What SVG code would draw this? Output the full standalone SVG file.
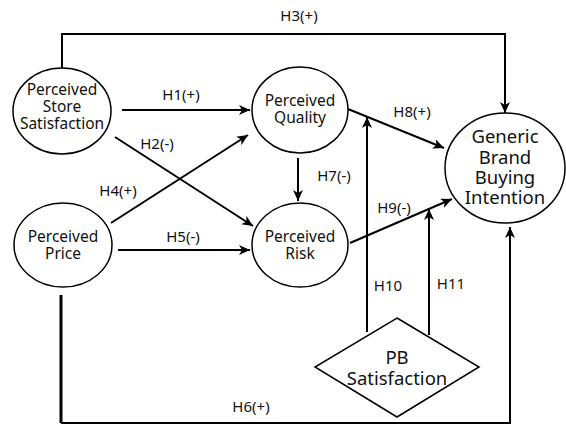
<svg xmlns="http://www.w3.org/2000/svg" width="566" height="425" viewBox="0 0 566 425">
<style>
.n{fill:#fff;stroke:#000;stroke-width:1.5}
.t{font-family:"Noto Sans","DejaVu Sans",sans-serif;font-size:15.5px;fill:#111;text-anchor:middle}
.b{font-size:18.5px}
.l{font-family:"Noto Sans","DejaVu Sans",sans-serif;font-size:15px;fill:#111;text-anchor:middle}
.c{fill:none;stroke:#000;stroke-width:2}
.a{marker-end:url(#ah)}
</style>
<defs>
<marker id="ah" markerUnits="userSpaceOnUse" markerWidth="12" markerHeight="10" refX="11" refY="5" orient="auto">
<path d="M0,0 L11,5 L0,10 L3,5 Z" fill="#000"/>
</marker>
</defs>
<rect width="566" height="425" fill="#fff"/>
<g id="connectors">
<path class="c a" d="M62,68 V34 H505 V113"/>
<path class="c a" d="M122,110 H250"/>
<path class="c a" d="M115,137 L253,226"/>
<path class="c a" d="M111,223 L248,135"/>
<path class="c a" d="M118,250 H250"/>
<path class="c" d="M61,295 V423" style="stroke-width:3"/>
<path class="c a" d="M61,423 H510 V227"/>
<path class="c a" d="M298,158 V201"/>
<path class="c a" d="M348,109 L444,148"/>
<path class="c a" d="M350,243 L452,199"/>
<path class="c a" d="M367,332 V117"/>
<path class="c a" d="M429,335 V209"/>
<text class="l" x="299" y="21">H3(+)</text>
<text class="l" x="181" y="100">H1(+)</text>
<text class="l" x="157" y="149">H2(-)</text>
<text class="l" x="118" y="196">H4(+)</text>
<text class="l" x="183" y="242">H5(-)</text>
<text class="l" x="251" y="412">H6(+)</text>
<text class="l" x="334" y="181">H7(-)</text>
<text class="l" x="412" y="117">H8(+)</text>
<text class="l" x="394" y="213">H9(-)</text>
<text class="l" x="388" y="291">H10</text>
<text class="l" x="451" y="289">H11</text>
</g>
<g id="store">
<ellipse class="n" cx="62" cy="111" rx="49" ry="43"/>
<text class="t" x="62" y="95">Perceived</text>
<text class="t" x="62" y="112">Store</text>
<text class="t" x="62" y="129">Satisfaction</text>
</g>
<g id="quality">
<ellipse class="n" cx="300" cy="110" rx="48" ry="43"/>
<text class="t" x="300" y="106">Perceived</text>
<text class="t" x="300" y="123">Quality</text>
</g>
<g id="risk">
<ellipse class="n" cx="300" cy="245" rx="48" ry="42"/>
<text class="t" x="300" y="242">Perceived</text>
<text class="t" x="300" y="259">Risk</text>
</g>
<g id="price">
<ellipse class="n" cx="63" cy="245" rx="49" ry="42"/>
<text class="t" x="63" y="242">Perceived</text>
<text class="t" x="63" y="259">Price</text>
</g>
<g id="intention">
<ellipse class="n" cx="505" cy="168" rx="60" ry="55"/>
<text class="t b" x="505" y="143">Generic</text>
<text class="t b" x="505" y="164">Brand</text>
<text class="t b" x="505" y="184">Buying</text>
<text class="t b" x="505" y="204">Intention</text>
</g>
<g id="pb">
<polygon class="n" points="397,318 479,367 397,417 315,367"/>
<text class="t b" x="397" y="364">PB</text>
<text class="t b" x="397" y="385">Satisfaction</text>
</g>
</svg>
